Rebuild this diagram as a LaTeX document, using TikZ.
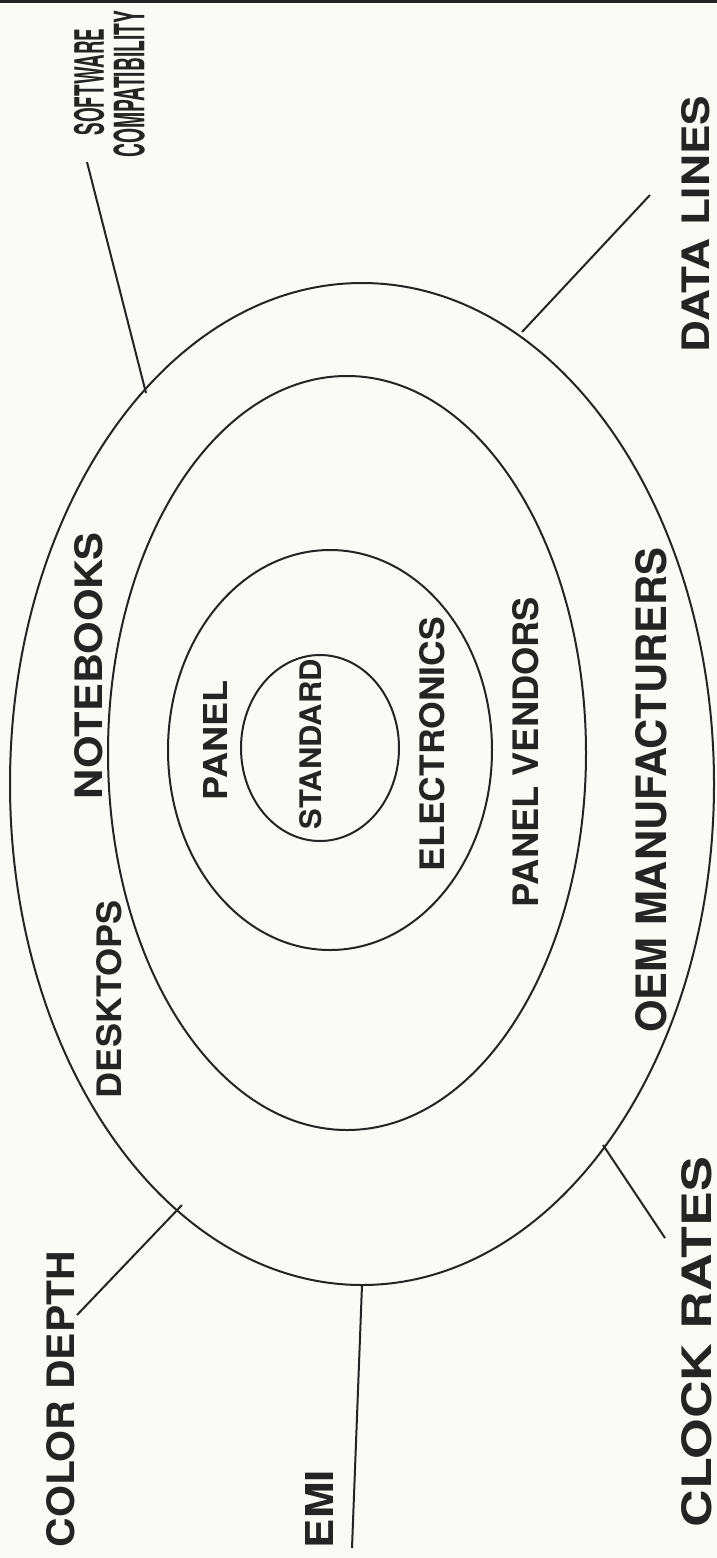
\documentclass[tikz,border=0pt]{standalone}
\usepackage{fontspec}
\setmainfont{TeX Gyre Heros}
\usepackage{graphicx}
\usetikzlibrary{shapes.geometric}
\definecolor{bg}{RGB}{250,250,247}
\definecolor{ink}{RGB}{36,36,36}
\newcommand\mylbl[3]{\resizebox{#1pt}{#2pt}{\bfseries #3}}
\begin{document}
\begin{tikzpicture}[x=1pt,y=-1pt,
  ring/.style={draw=ink, line width=2pt, ellipse, inner sep=0pt, outer sep=0pt},
  lbl/.style={rotate=90, inner sep=0pt, outer sep=0pt, text=ink},
  conn/.style={draw=ink, line width=2pt}]
\fill[bg] (0,0) rectangle (717,1558);
\useasboundingbox (0,0) rectangle (717,1558);
\fill[ink] (0,0) rectangle (717,3);
% ellipses
\node[ring, minimum width=704pt, minimum height=1002pt] (outer) at (362,784) {};
\node[ring, minimum width=478pt, minimum height=754pt] (second) at (347,753) {};
\node[ring, minimum width=324pt, minimum height=400pt] (third) at (330,750) {};
\node[ring, minimum width=158pt, minimum height=186pt] (inner) at (320,748) {};
% labels
\node[lbl] (software) at (89,82) {\mylbl{107}{30}{SOFTWARE}};
\node[lbl] (compat) at (129,84) {\mylbl{147}{31}{COMPATIBILITY}};
\node[lbl] (datalines) at (696,224) {\mylbl{256}{28}{DATA LINES}};
\node[lbl] (notebooks) at (89,666) {\mylbl{267}{28}{NOTEBOOKS}};
\node[lbl] (panel) at (215,740) {\mylbl{120}{24}{PANEL}};
\node[lbl] (standard) at (311,744) {\mylbl{170}{22}{STANDARD}};
\node[lbl] (electronics) at (432,744) {\mylbl{254}{25}{ELECTRONICS}};
\node[lbl] (vendors) at (526,752) {\mylbl{310}{26}{PANEL VENDORS}};
\node[lbl] (oem) at (651,790) {\mylbl{485}{31}{OEM MANUFACTURERS}};
\node[lbl] (desktops) at (109,999) {\mylbl{198}{25}{DESKTOPS}};
\node[lbl] (colordepth) at (61,1399) {\mylbl{296}{28}{COLOR DEPTH}};
\node[lbl] (emi) at (319,1509) {\mylbl{78}{28}{EMI}};
\node[lbl] (clockrates) at (697,1342) {\mylbl{370}{30}{CLOCK RATES}};
% connector ends
\coordinate (swA) at (87,162);
\coordinate (swB) at (146,393);
\coordinate (dlA) at (650,195);
\coordinate (dlB) at (522,332);
\coordinate (cdA) at (77,1315);
\coordinate (cdB) at (182,1205);
\coordinate (emA) at (352,1548);
\coordinate (crA) at (665,1238);
\coordinate (crB) at (603,1145);
\draw[conn] (swA) -- (swB);
\draw[conn] (dlA) -- (dlB);
\draw[conn] (cdA) -- (cdB);
\draw[conn] (outer.south) -- (emA);
\draw[conn] (crA) -- (crB);
\end{tikzpicture}
\end{document}
